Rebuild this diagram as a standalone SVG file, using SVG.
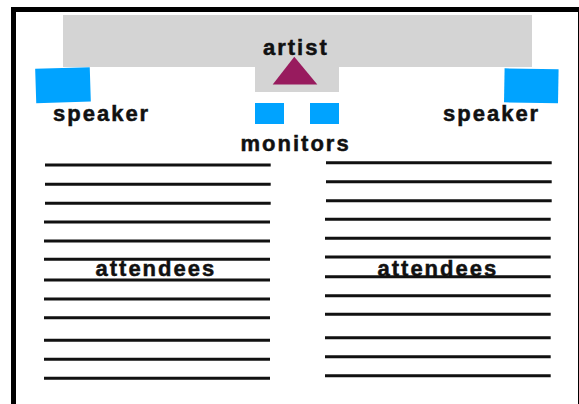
<svg xmlns="http://www.w3.org/2000/svg" width="579" height="404" viewBox="0 0 579 404">
<style>
.lbl{font-family:"Liberation Sans",Arial,sans-serif;font-weight:bold;font-size:22px;letter-spacing:2px;fill:#111;stroke:#111;stroke-width:0.5}
.stage{fill:#d4d4d4}
.blue{fill:#00a3ff}
.row{stroke:#111;stroke-width:3;fill:none}
</style>
<rect x="0" y="0" width="579" height="404" fill="#fff"/>
<rect id="frame" x="13.5" y="9.5" width="567" height="420" fill="none" stroke="#000" stroke-width="5"/>
<g id="stage">
<rect class="stage" x="63" y="15" width="469" height="52"/>
<rect class="stage" x="255" y="66" width="84" height="26"/>
<text class="lbl" x="263" y="55">artist</text>
</g>
<g id="artist">
<polygon points="294.3,56.7 272.7,84.5 317.3,84.5" fill="#981b5e"/>
</g>
<g id="speaker-left">
<rect class="blue" x="35.7" y="68" width="54.6" height="34.3" transform="rotate(-1.8 63 85.2)"/>
<text class="lbl" x="53" y="121">speaker</text>
</g>
<g id="speaker-right">
<rect class="blue" x="504.3" y="68.8" width="54" height="34" transform="rotate(1 531.3 85.8)"/>
<text class="lbl" x="443" y="121">speaker</text>
</g>
<g id="monitors">
<rect class="blue" x="255" y="103" width="29" height="21"/>
<rect class="blue" x="310" y="103" width="29" height="21"/>
<text class="lbl" x="240.5" y="151">monitors</text>
</g>
<g id="attendees-left">
<path class="row" d="M45 165H270.7M45 184.3H270.7M45 203.3H270.7M44 222H270M44 241H270M44 259.3H270M44 280H270M44 299H270M44 317.7H270M44 340.3H270M44 359.3H270M44 378.3H270"/>
<text class="lbl" x="95.5" y="276">attendees</text>
</g>
<g id="attendees-right">
<path class="row" d="M326 162.7H551.7M326 181.7H551.7M326 200.7H551.7M325 219.3H550.7M325 238.3H550.7M325 257H550.7M325 276.7H550.7M325 295.7H550.7M325 314.3H550.7M325 337.7H550.7M325 356.7H550.7M325 375.7H550.7"/>
<text class="lbl" x="377.5" y="276">attendees</text>
</g>
<g id="connectors"/>
</svg>
